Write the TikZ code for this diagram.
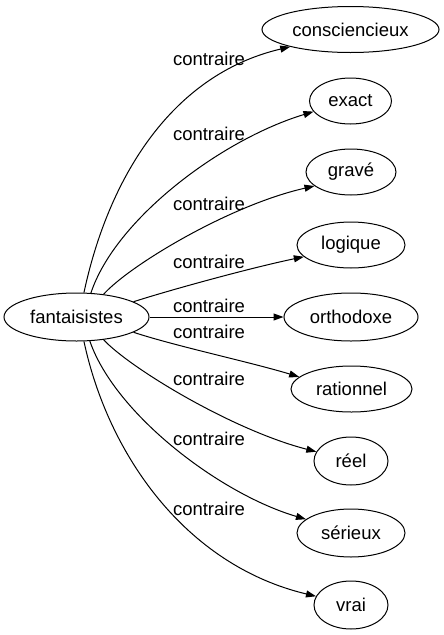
\documentclass[tikz,border=0pt]{standalone}
\usepackage{fontspec}
\setmainfont{Liberation Sans}
\usetikzlibrary{shapes.geometric,arrows.meta}
\begin{document}
\begin{tikzpicture}[x=1pt,y=-1pt,
  every node/.style={font=\fontsize{18.5}{20}\selectfont},
  nd/.style={ellipse, draw, line width=1pt, inner sep=0pt, minimum height=46pt},
  lbl/.style={anchor=base, inner sep=0pt},
  conn/.style={line width=1pt, -{Triangle[length=10pt,width=7pt]}}]
\useasboundingbox (0,0) rectangle (444,635);
\node[nd, minimum width=145pt, minimum height=48pt] (s) at (76.5,317) {fantaisistes};
\node[nd, minimum width=177pt] (t1) at (350.5,29.5) {consciencieux};
\node[nd, minimum width=82pt] (t2) at (350.5,101) {exact};
\node[nd, minimum width=90pt] (t3) at (351,172) {gravé};
\node[nd, minimum width=108pt] (t4) at (351,245) {logique};
\node[nd, minimum width=134pt, minimum height=48pt] (t5) at (351,317) {orthodoxe};
\node[nd, minimum width=121pt] (t6) at (351.5,389) {rationnel};
\node[nd, minimum width=74pt, minimum height=48pt] (t7) at (351,461) {réel};
\node[nd, minimum width=108pt, minimum height=48pt] (t8) at (351,533) {sérieux};
\node[nd, minimum width=74pt, minimum height=48pt] (t9) at (351,605) {vrai};
\draw[conn] (s.73.7) .. controls (108,180) and (170,75) .. (t1.196.4);
\draw[conn] (s.59.3) .. controls (115,220) and (220,140) .. (t2.196.3);
\draw[conn] (s.40.7) .. controls (130,265) and (230,205) .. (t3.201);
\draw[conn] (s.15.1) .. controls (170,290) and (250,268) .. (t4.194);
\draw[conn] (s.0) -- (t5.180);
\draw[conn] (s.-15.7) .. controls (175,346) and (250,362) .. (t6.167.2);
\draw[conn] (s.-40.7) .. controls (130,368) and (232,430) .. (t7.165.2);
\draw[conn] (s.-61.2) .. controls (115,414) and (220,494) .. (t8.163.9);
\draw[conn] (s.-73.7) .. controls (108,454) and (185,565) .. (t9.166.8);
\node[lbl] (l1) at (209,65) {contraire};
\node[lbl] (l2) at (209,140) {contraire};
\node[lbl] (l3) at (209,210) {contraire};
\node[lbl] (l4) at (209,268) {contraire};
\node[lbl] (l5) at (209,312) {contraire};
\node[lbl] (l6) at (209,338) {contraire};
\node[lbl] (l7) at (209,385) {contraire};
\node[lbl] (l8) at (209,445) {contraire};
\node[lbl] (l9) at (209,515) {contraire};
\end{tikzpicture}
\end{document}
